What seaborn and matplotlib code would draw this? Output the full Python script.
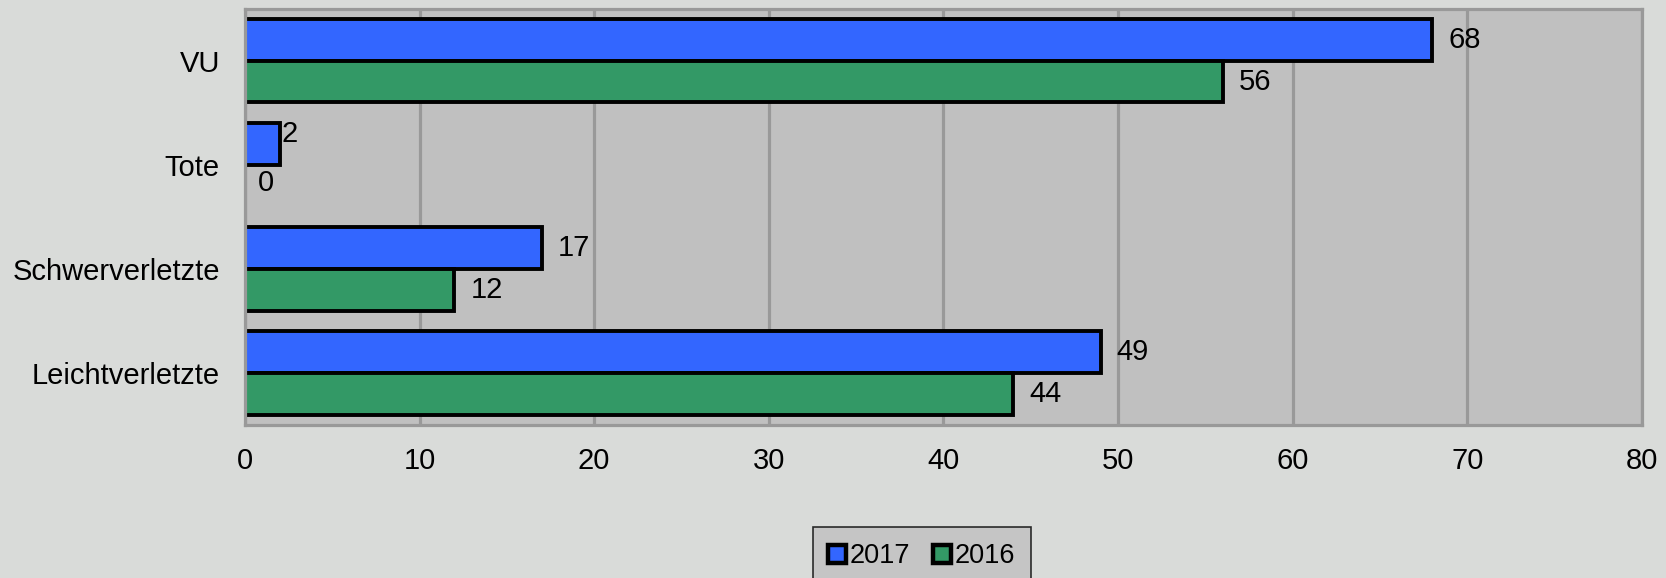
import matplotlib
matplotlib.use("Agg")
import matplotlib.pyplot as plt
from matplotlib.lines import Line2D
import seaborn as sns
import pandas as pd

categories = ["VU", "Tote", "Schwerverletzte", "Leichtverletzte"]
years = ["2017", "2016"]
values_2017 = [68, 2, 17, 49]
values_2016 = [56, 0, 12, 44]
x_ticks = [0, 10, 20, 30, 40, 50, 60, 70, 80]

colors = {"2017": "#3366ff", "2016": "#339966"}

df = pd.DataFrame({
    "cat": categories * 2,
    "year": ["2017"] * 4 + ["2016"] * 4,
    "val": values_2017 + values_2016,
})

sns.set_theme(style="white")
plt.rcParams["font.family"] = ["Liberation Sans", "DejaVu Sans"]
plt.rcParams["text.color"] = "black"

fig = plt.figure(figsize=(16.66, 5.78), dpi=100)
fig.patch.set_facecolor("#d9dbd9")
ax = fig.add_axes([0.147, 0.2647, 0.8385, 0.7203])
ax.set_facecolor("#c0c0c0")

sns.barplot(data=df, y="cat", x="val", hue="year", hue_order=years,
            order=categories, palette=colors, orient="h", width=0.8,
            edgecolor="black", linewidth=2.8, saturation=1, legend=False,
            ax=ax, errorbar=None)

ax.set_xlim(0, 80)
ax.set_xticks(x_ticks)
ax.set_xticklabels([str(t) for t in x_ticks])
ax.set_xlabel("")
ax.set_ylabel("")
ax.tick_params(axis="both", length=0, labelsize=21, colors="black")
ax.tick_params(axis="x", pad=16)
ax.tick_params(axis="y", pad=18)
ax.grid(axis="x", color="#999999", linewidth=2.3)
ax.grid(axis="y", visible=False)
ax.set_axisbelow(True)
for s in ax.spines.values():
    s.set_visible(True)
    s.set_color("#999999")
    s.set_linewidth(2.3)

# value labels (small per-label nudges in points mimic the original placement)
nudges = {("2017", 1): (1.5, 7), ("2016", 1): (9, 2)}
for year, cont in zip(years, ax.containers):
    for i, patch in enumerate(cont.patches):
        w = patch.get_width()
        if w == 0:
            patch.set_linewidth(0)
        dx, dy = nudges.get((year, i), (11.5, 0))
        ax.annotate(f"{int(round(w))}", (w, patch.get_y() + patch.get_height() / 2),
                    xytext=(dx, dy), textcoords="offset points",
                    ha="left", va="center", fontsize=21, color="black",
                    annotation_clip=False)

handles = [Line2D([], [], marker="s", linestyle="", markersize=12.5,
                  markerfacecolor=colors[y], markeredgecolor="black",
                  markeredgewidth=3.2) for y in years]
leg = fig.legend(handles, years, loc="lower center", bbox_to_anchor=(0.5535, -0.036),
                 ncol=2, frameon=True, fontsize=19.5, handlelength=0.6,
                 handletextpad=0.15, columnspacing=0.9, borderpad=0.6,
                 borderaxespad=0.5, fancybox=False, labelcolor="black")
leg.get_frame().set_facecolor("#c0c0c0")
leg.get_frame().set_edgecolor("black")
leg.get_frame().set_linewidth(1.2)

fig.savefig("out.png", dpi=100, facecolor=fig.get_facecolor())
